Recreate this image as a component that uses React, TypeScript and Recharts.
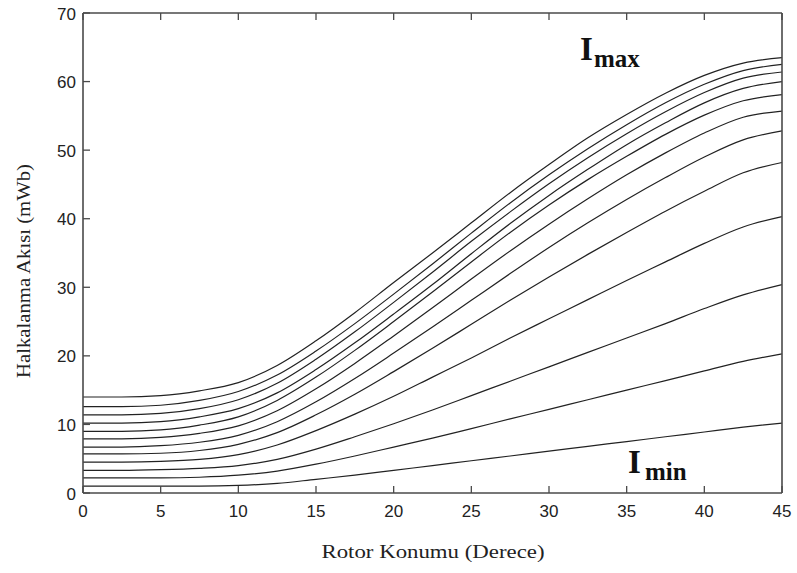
import React from 'react';
import { LineChart, Line, XAxis, YAxis, Customized } from 'recharts';

const angles = [0, 2.5, 5, 7.5, 10, 12.5, 15, 17.5, 20, 22.5, 25, 27.5, 30, 32.5, 35, 37.5, 40, 42.5, 45];

const flux1 = [1.0, 1.0, 1.0, 1.0, 1.1, 1.4, 2.0, 2.6, 3.3, 4.0, 4.7, 5.4, 6.1, 6.8, 7.5, 8.2, 8.9, 9.6, 10.2];
const flux2 = [2.2, 2.2, 2.2, 2.3, 2.6, 3.2, 4.2, 5.4, 6.7, 8.0, 9.4, 10.8, 12.2, 13.6, 15.0, 16.4, 17.8, 19.2, 20.3];
const flux3 = [3.3, 3.3, 3.4, 3.6, 4.0, 4.9, 6.4, 8.2, 10.1, 12.1, 14.2, 16.3, 18.4, 20.5, 22.6, 24.7, 26.9, 28.9, 30.4];
const flux4 = [4.5, 4.5, 4.6, 4.9, 5.6, 7.0, 9.1, 11.5, 14.1, 16.9, 19.7, 22.6, 25.4, 28.2, 31.0, 33.7, 36.4, 38.8, 40.3];
const flux5 = [5.7, 5.7, 5.8, 6.2, 7.1, 8.8, 11.4, 14.4, 17.7, 21.1, 24.6, 28.1, 31.5, 34.8, 38.0, 41.1, 44.0, 46.7, 48.2];
const flux6 = [6.7, 6.7, 6.9, 7.4, 8.4, 10.4, 13.3, 16.7, 20.4, 24.2, 28.1, 32.0, 35.8, 39.4, 42.8, 46.0, 49.0, 51.5, 52.8];
const flux7 = [7.9, 7.9, 8.1, 8.7, 9.8, 12.0, 15.2, 18.9, 22.9, 27.0, 31.2, 35.3, 39.2, 42.9, 46.4, 49.6, 52.5, 54.8, 55.7];
const flux8 = [9.0, 9.0, 9.2, 9.9, 11.1, 13.5, 16.9, 20.8, 25.0, 29.3, 33.7, 38.0, 42.0, 45.7, 49.1, 52.3, 55.1, 57.2, 58.1];
const flux9 = [10.2, 10.2, 10.4, 11.1, 12.3, 14.6, 18.0, 21.9, 26.1, 30.4, 34.9, 39.3, 43.4, 47.2, 50.8, 54.0, 56.9, 59.0, 60.0];
const flux10 = [11.4, 11.4, 11.6, 12.3, 13.6, 16.0, 19.5, 23.5, 27.8, 32.2, 36.7, 41.0, 45.1, 48.9, 52.4, 55.6, 58.4, 60.5, 61.4];
const flux11 = [12.6, 12.6, 12.8, 13.5, 14.8, 17.2, 20.7, 24.7, 29.0, 33.4, 37.9, 42.3, 46.4, 50.2, 53.7, 56.9, 59.6, 61.6, 62.5];
const flux12 = [14.0, 14.0, 14.2, 14.9, 16.1, 18.6, 22.2, 26.3, 30.7, 35.0, 39.4, 43.8, 47.9, 51.8, 55.2, 58.3, 60.9, 62.7, 63.5];

const series = [flux1, flux2, flux3, flux4, flux5, flux6, flux7, flux8, flux9, flux10, flux11, flux12];

const xTicks = [0, 5, 10, 15, 20, 25, 30, 35, 40, 45];
const yTicks = [0, 10, 20, 30, 40, 50, 60, 70];

const xLabel = 'Rotor Konumu (Derece)';
const yLabel = 'Halkalanma Akısı (mWb)';
const maxLabel = 'max';
const minLabel = 'min';

const data = angles.map((a, i) => {
  const row: Record<string, number> = { angle: a };
  series.forEach((s, k) => {
    row['c' + (k + 1)] = s[i];
  });
  return row;
});

const AX = '#4a4a4a';
const TICK_FONT = 'Arial, "Liberation Sans", sans-serif';
const SERIF = '"Liberation Serif", "Times New Roman", serif';

const BottomTick = (props: any) => {
  const { x, y, payload } = props;
  return (
    <g>
      <line x1={x} x2={x} y1={y} y2={y - 7} stroke={AX} strokeWidth={1.3} />
      <text x={x} y={y + 24} textAnchor="middle" fontFamily={TICK_FONT} fontSize={17} fill="#222">
        {payload.value}
      </text>
    </g>
  );
};

const TopTick = (props: any) => {
  const { x, y } = props;
  return <line x1={x} x2={x} y1={y} y2={y + 7} stroke={AX} strokeWidth={1.3} />;
};

const LeftTick = (props: any) => {
  const { x, y, payload } = props;
  return (
    <g>
      <line x1={x} x2={x + 7} y1={y} y2={y} stroke={AX} strokeWidth={1.3} />
      <text x={x - 7} y={y + 6.5} textAnchor="end" fontFamily={TICK_FONT} fontSize={17} fill="#222">
        {payload.value}
      </text>
    </g>
  );
};

const RightTick = (props: any) => {
  const { x, y } = props;
  return <line x1={x} x2={x - 7} y1={y} y2={y} stroke={AX} strokeWidth={1.3} />;
};

const Annotations = () => (
  <g>
    <text x={24} y={271} transform="rotate(-90 24 271)" textAnchor="middle" dominantBaseline="central"
      fontFamily={SERIF} fontSize={18} fill="#222" textLength={214} lengthAdjust="spacingAndGlyphs">
      {yLabel}
    </text>
    <text x={433} y={558} textAnchor="middle" fontFamily={SERIF} fontSize={18} fill="#222"
      textLength={223} lengthAdjust="spacingAndGlyphs">
      {xLabel}
    </text>
    <text x={580} y={60} fontFamily={SERIF} fontWeight="bold" fontSize={33} fill="#111">I</text>
    <text x={594} y={67} fontFamily={SERIF} fontWeight="bold" fontSize={25} fill="#111">{maxLabel}</text>
    <text x={628} y={473} fontFamily={SERIF} fontWeight="bold" fontSize={33} fill="#111">I</text>
    <text x={645} y={480} fontFamily={SERIF} fontWeight="bold" fontSize={25} fill="#111">{minLabel}</text>
  </g>
);

export default function App() {
  return (
    <div style={{ position: 'absolute', left: 0, top: 0, width: 797, height: 573, background: '#fff' }}>
      <LineChart width={797} height={573} data={data} margin={{ top: 12, right: 14, bottom: 0, left: 0 }}>
        <XAxis
          dataKey="angle"
          type="number"
          domain={[0, 45]}
          ticks={xTicks}
          interval={0}
          height={80}
          tickSize={0}
          tickMargin={0}
          tickLine={false}
          tick={<BottomTick />}
          axisLine={{ stroke: AX, strokeWidth: 1.6 }}
        />
        <XAxis
          xAxisId="top"
          dataKey="angle"
          type="number"
          orientation="top"
          domain={[0, 45]}
          ticks={xTicks}
          interval={0}
          height={1}
          tickSize={0}
          tickMargin={0}
          tickLine={false}
          tick={<TopTick />}
          axisLine={{ stroke: AX, strokeWidth: 1.6 }}
        />
        <YAxis
          type="number"
          domain={[0, 70]}
          ticks={yTicks}
          interval={0}
          width={83}
          tickSize={0}
          tickMargin={0}
          tickLine={false}
          tick={<LeftTick />}
          axisLine={{ stroke: AX, strokeWidth: 1.6 }}
        />
        <YAxis
          yAxisId="right"
          type="number"
          orientation="right"
          domain={[0, 70]}
          ticks={yTicks}
          interval={0}
          width={1}
          tickSize={0}
          tickMargin={0}
          tickLine={false}
          tick={<RightTick />}
          axisLine={{ stroke: AX, strokeWidth: 1.6 }}
        />
        {series.map((_, k) => (
          <Line
            key={k}
            dataKey={'c' + (k + 1)}
            type="monotone"
            stroke="#222"
            strokeWidth={1.2}
            dot={false}
            activeDot={false}
            isAnimationActive={false}
          />
        ))}
        <Customized component={Annotations} />
      </LineChart>
    </div>
  );
}
